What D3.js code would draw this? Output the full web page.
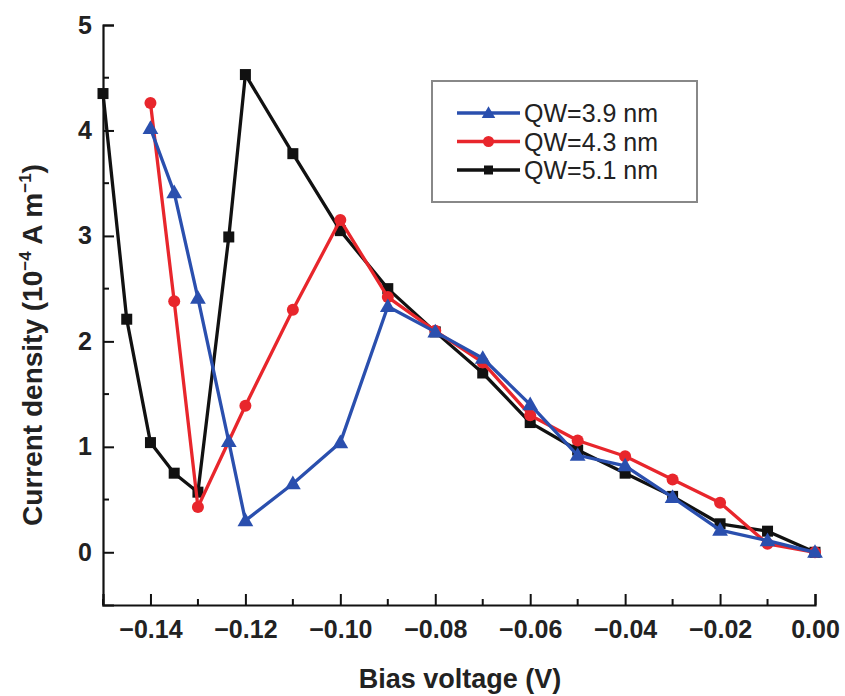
<!DOCTYPE html>
<html><head><meta charset="utf-8">
<script src="https://cdn.jsdelivr.net/npm/d3@7"></script>
<style>body{margin:0;background:#fff}</style>
</head><body>
<svg id="c" width="845" height="696"></svg>
<script>
const seriesNames = ["QW=3.9 nm","QW=4.3 nm","QW=5.1 nm"];
const seriesColors = ["#2a4fae","#e8262c","#111111"];
const seriesShapes = ["triangle","circle","square"];

const xBlue = [-0.14,-0.135,-0.13,-0.1235,-0.12,-0.11,-0.10,-0.09,-0.08,-0.07,-0.06,-0.05,-0.04,-0.03,-0.02,-0.01,0];
const yBlue = [4.02,3.41,2.41,1.05,0.30,0.65,1.04,2.33,2.09,1.84,1.40,0.92,0.82,0.52,0.21,0.11,0.0];

const xRed = [-0.14,-0.135,-0.13,-0.12,-0.11,-0.10,-0.09,-0.08,-0.07,-0.06,-0.05,-0.04,-0.03,-0.02,-0.01,0];
const yRed = [4.26,2.38,0.43,1.39,2.30,3.15,2.42,2.10,1.80,1.30,1.06,0.91,0.69,0.47,0.08,0.0];

const xBlack = [-0.15,-0.145,-0.14,-0.135,-0.13,-0.1235,-0.12,-0.11,-0.10,-0.09,-0.08,-0.07,-0.06,-0.05,-0.04,-0.03,-0.02,-0.01,0];
const yBlack = [4.35,2.21,1.04,0.75,0.57,2.99,4.53,3.78,3.05,2.50,2.09,1.70,1.23,0.97,0.75,0.53,0.27,0.20,0.0];

const xTicks = [-0.14,-0.12,-0.10,-0.08,-0.06,-0.04,-0.02,0.00];
const xMinor = [-0.15,-0.13,-0.11,-0.09,-0.07,-0.05,-0.03,-0.01];
const yTicks = [0,1,2,3,4,5];
const yMinor = [0.5,1.5,2.5,3.5,4.5];

const svg = d3.select("#c");
const L=103, R=815, T=25, B=605;
const x = d3.scaleLinear().domain([-0.15,0]).range([L,R]);
const y = d3.scaleLinear().domain([-0.5,5]).range([B,T]);
const font = "'Liberation Sans', Arial, sans-serif";

// axes
const gx = svg.append("g").attr("transform",`translate(0,${B})`);
gx.call(d3.axisBottom(x).tickValues(xTicks).tickSize(-11).tickPadding(15)
  .tickFormat(d => d===0 ? "0.00" : d3.format(".2f")(d).replace("-","\u2212")));
gx.append("g").selectAll("line").data(xMinor).join("line")
  .attr("x1",d=>x(d)).attr("x2",d=>x(d)).attr("y1",0).attr("y2",-6)
  .attr("stroke","#111").attr("stroke-width",2);
const gy = svg.append("g").attr("transform",`translate(${L},0)`);
gy.call(d3.axisLeft(y).tickValues(yTicks).tickSize(-11).tickPadding(11).tickFormat(d3.format("d")));
gy.append("g").selectAll("line").data(yMinor).join("line")
  .attr("y1",d=>y(d)).attr("y2",d=>y(d)).attr("x1",0).attr("x2",6)
  .attr("stroke","#111").attr("stroke-width",2);
[gx,gy].forEach(g=>{
  g.select(".domain").attr("stroke","#111").attr("stroke-width",2.2);
  g.selectAll(".tick line").attr("stroke","#111").attr("stroke-width",2);
  g.selectAll(".tick text").attr("font-family",font).attr("font-weight","bold")
   .attr("font-size",25).attr("fill","#222");
});
gx.selectAll(".tick text").attr("dy","0.71em");

// titles
svg.append("text").attr("x",460).attr("y",688).attr("text-anchor","middle")
  .attr("font-family",font).attr("font-weight","bold").attr("font-size",27).attr("fill","#222")
  .text("Bias voltage (V)");
const yt = svg.append("text").attr("transform","translate(42,345) rotate(-90)").attr("text-anchor","middle")
  .attr("font-family",font).attr("font-weight","bold").attr("font-size",28).attr("fill","#222");
yt.append("tspan").text("Current density (10");
yt.append("tspan").attr("dy",-11).attr("font-size",17).text("\u22124");
yt.append("tspan").attr("dy",11).text(" A m");
yt.append("tspan").attr("dy",-11).attr("font-size",17).text("\u22121");
yt.append("tspan").attr("dy",11).text(")");

function marker(g, shape, color, cx, cy, s){
  if(shape==="triangle"){
    g.append("path").attr("d",d3.symbol(d3.symbolTriangle, s*s*0.55)())
      .attr("transform",`translate(${cx},${cy+1})`).attr("fill",color);
  } else if(shape==="circle"){
    g.append("circle").attr("cx",cx).attr("cy",cy).attr("r",s/2).attr("fill",color);
  } else {
    g.append("rect").attr("x",cx-s/2).attr("y",cy-s/2).attr("width",s).attr("height",s).attr("fill",color);
  }
}

const data = [[xBlue,yBlue],[xRed,yRed],[xBlack,yBlack]];
const line = d3.line().x(d=>x(d[0])).y(d=>y(d[1]));
[2,1,0].forEach(i=>{
  const pts = data[i][0].map((v,k)=>[v,data[i][1][k]]);
  const g = svg.append("g");
  g.append("path").datum(pts).attr("d",line).attr("fill","none")
    .attr("stroke",seriesColors[i]).attr("stroke-width",3.3).attr("stroke-linejoin","round");
  const size = i===0 ? 14 : i===1 ? 12 : 11;
  pts.forEach(p=>marker(g, seriesShapes[i], seriesColors[i], x(p[0]), y(p[1]), size));
});

// legend
const lg = svg.append("g");
lg.append("rect").attr("x",432).attr("y",81).attr("width",265).attr("height",121)
  .attr("fill","#fff").attr("stroke","#888").attr("stroke-width",2);
seriesNames.forEach((n,i)=>{
  const ly = 113 + i*28.5;
  lg.append("line").attr("x1",457).attr("x2",520).attr("y1",ly).attr("y2",ly)
    .attr("stroke",seriesColors[i]).attr("stroke-width",3.3);
  marker(lg, seriesShapes[i], seriesColors[i], 488.5, ly, i===0?12:i===1?11:9);
  lg.append("text").attr("x",524).attr("y",ly).attr("dy","0.36em")
    .attr("font-family",font).attr("font-size",25).attr("fill","#222").text(n);
});
</script>
</body></html>
